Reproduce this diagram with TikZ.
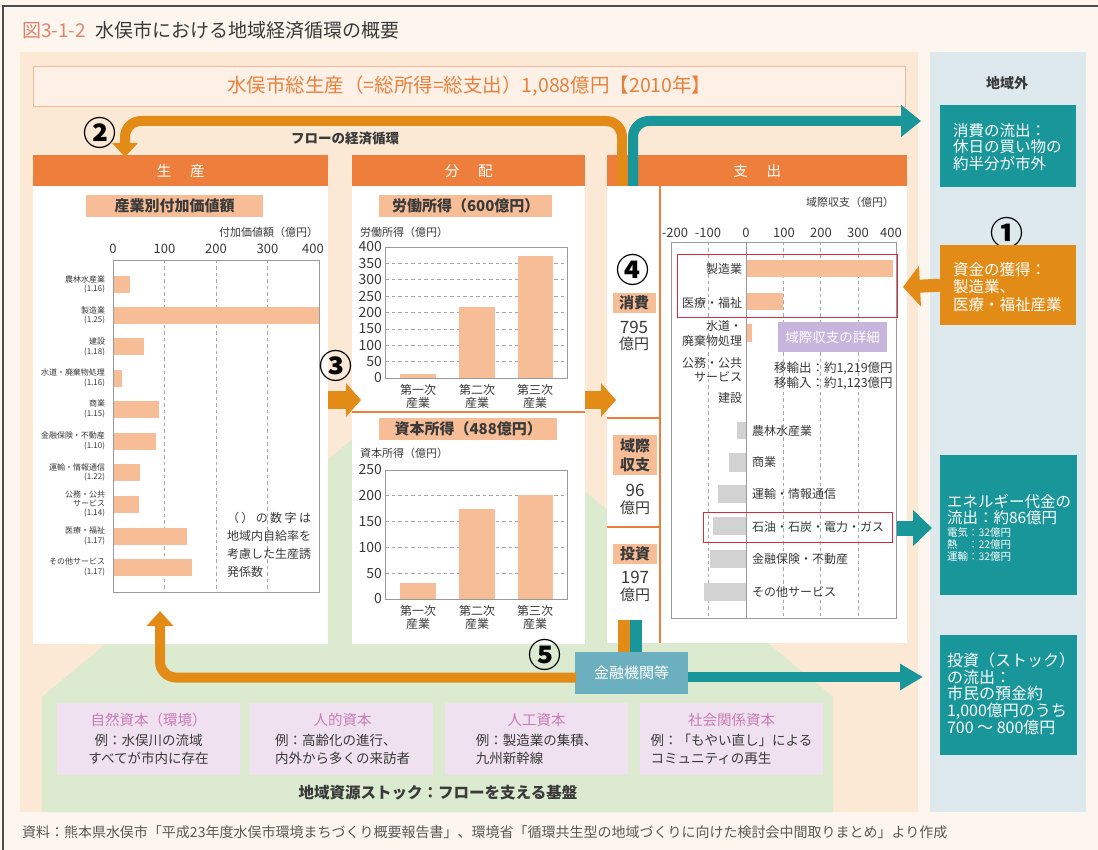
\documentclass[tikz,border=0pt]{standalone}
\usepackage{fontspec}
\setmainfont{Noto Sans CJK JP}
\usetikzlibrary{arrows.meta}
\definecolor{pagebg}{HTML}{FDF6EF}
\definecolor{peach}{HTML}{FBE8D5}
\definecolor{bluebg}{HTML}{DDE9EC}
\definecolor{greenbg}{HTML}{DCEAD0}
\definecolor{hdr}{HTML}{EE7E3B}
\definecolor{flowO}{HTML}{E38B17}
\definecolor{flowT}{HTML}{19969A}
\definecolor{salmon}{HTML}{F7BD96}
\definecolor{graybar}{HTML}{D2D2D2}
\definecolor{lav}{HTML}{EFE1EF}
\definecolor{pinktxt}{HTML}{C97BB7}
\definecolor{purplebox}{HTML}{C8B5DD}
\definecolor{finbox}{HTML}{6CB0BF}
\definecolor{redbox}{HTML}{D62A3D}
\definecolor{txt}{HTML}{3A3A3A}
\definecolor{titleO}{HTML}{E9803A}
\definecolor{frameG}{HTML}{9A9A9A}
\definecolor{gridG}{HTML}{A8A8A8}
\definecolor{totfill}{HTML}{FDF1E7}
\definecolor{totline}{HTML}{F3B89B}
\definecolor{figno}{HTML}{E3826C}
\newcommand{\fsz}[2]{\fontsize{#1}{#2}\selectfont}
\begin{document}
\begin{tikzpicture}[x=1pt,y=-1pt,
  t/.style={inner sep=0pt,outer sep=0pt,text=txt},
  hdrbox/.style={fill=hdr,inner sep=0pt,text=white,font=\fsz{14.5}{16},anchor=north west,minimum height=31pt},
  lblbox/.style={fill=salmon,inner sep=0pt,minimum height=22pt,anchor=north west,text=txt,font=\fsz{15}{17}\bfseries},
  bar/.style={fill=salmon},
  nbar/.style={fill=graybar},
  gridl/.style={draw=gridG,dash pattern=on 3.5pt off 3pt,line width=0.7pt},
  framel/.style={draw=frameG,line width=0.8pt},
  sepl/.style={draw=hdr,line width=1.1pt},
  flowo/.style={draw=flowO,line width=10pt},
  flowt/.style={draw=flowT,line width=10pt},
  circ/.style={inner sep=0pt,text=black,font=\fsz{33}{33}\bfseries},
  tealbox/.style={fill=flowT,inner sep=0pt,anchor=north west},
  capbox/.style={fill=lav,inner sep=0pt,anchor=north west,minimum height=72pt,minimum width=183pt},
  captitle/.style={t,text=pinktxt,font=\fsz{14.5}{16}},
  captext/.style={t,font=\fsz{13.5}{18}},
  smalllab/.style={t,font=\fsz{8}{9.3},align=right,anchor=east},
  clab/.style={t,font=\fsz{12}{13},align=center},
  wtext/.style={t,text=white,align=left,anchor=west},
  rlab/.style={t,font=\fsz{12}{14.5}}
]
\useasboundingbox (0,0) rectangle (1098,850);
\fill[pagebg] (0,0) rectangle (1098,850);
\draw[line width=1.2pt,black!70] (3,850) -- (3,6) -- (1098,6);

% title
\node[t,anchor=west,font=\fsz{19}{22}] (title) at (22,30) {\textcolor{figno}{図3-1-2}\hspace{10pt}水俣市における地域経済循環の概要};

% backgrounds
\fill[peach] (20,52) rectangle (918,812);
\fill[bluebg] (930,52) rectangle (1086,812);
\fill[greenbg] (42,812) -- (42,697) -- (437,369) -- (833,697) -- (833,812) -- cycle;

% total
\node[draw=totline,fill=totfill,line width=0.8pt,minimum width=872pt,minimum height=40pt,anchor=north west,inner sep=0pt] (total) at (33,66) {};
\node[t,text=titleO,font=\fsz{19.5}{22}] (totaltext) at (total.center) {水俣市総生産（=総所得=総支出）1,088億円【2010年】};

% headers
\node[hdrbox,minimum width=295pt] (hprod) at (33,155) {生\hspace{1.3em}産};
\node[hdrbox,minimum width=233pt] (hdist) at (352,155) {分\hspace{1.3em}配};
\node[hdrbox,minimum width=300pt] (hexp) at (607,155) {支\hspace{1.3em}出};

% white panels
\fill[white] (33,186) rectangle (328,644);
\fill[white] (352,186) rectangle (585,644);
\fill[white] (607,186) rectangle (907,643);

% ===== left chart =====
\node[lblbox,minimum width=177pt] (lblprod) at (86,195) {産業別付加価値額};
\node[t,anchor=east,font=\fsz{11}{12}] (unitprod) at (318,232) {付加価値額（億円）};
\foreach \v/\x [count=\i] in {0/113,100/164.5,200/216,300/267.5,400/313} \node[t,font=\fsz{13}{13}] (axp\i) at (\x,249) {\v};
\foreach \x in {164.5,216,267.5} \draw[gridl] (\x,260) -- (\x,592);
\foreach \c/\e/\lab [count=\i] in {284.5/130/{農林水産業\\(1.16)},315.5/319/{製造業\\(1.25)},347/144/{建設\\(1.18)},378/122/{水道・廃棄物処理\\(1.16)},409/159/{商業\\(1.15)},441/156/{金融保険・不動産\\(1.10)},472.5/140/{運輸・情報通信\\(1.22)},504/139/{公務・公共\\サービス\\(1.14)},536/187/{医療・福祉\\(1.17)},567/192/{その他サービス\\(1.17)}}{
  \fill[bar] (113,\c-8.5) rectangle (\e,\c+8.5);
  \node[smalllab] (pl\i) at (105,\c) {\lab};
}
\draw[framel] (113,260) rectangle (319,592);
\node[t,anchor=north west,align=left,font=\fsz{12}{18}] (note) at (227,512) {\hbox to 84pt{（\hfil）\hfil の\hfil 数\hfil 字\hfil は}\\地域内自給率を\\考慮した生産誘\\発係数};

% ===== middle charts =====
\node[lblbox,minimum width=173pt] (lbllab) at (379,195) {労働所得（600億円）};
\node[t,anchor=west,font=\fsz{11}{12}] (unitlab) at (360,232) {労働所得（億円）};
\foreach \v [count=\i] in {0,50,...,400} \node[t,anchor=east,font=\fsz{14}{14}] (axl\i) at (382,378-\v*0.3275) {\v};
\foreach \v in {50,100,...,350} \draw[gridl] (385,378-\v*0.3275) -- (567,378-\v*0.3275);
\fill[bar] (400,374) rectangle (436,378);
\fill[bar] (459,307) rectangle (495,378);
\fill[bar] (518,256) rectangle (553,378);
\draw[framel] (385,247) rectangle (567,378);
\foreach \x/\n [count=\i] in {418/一,477/二,535/三} \node[clab] (cla\i) at (\x,396.5) {第\n 次\\産業};

\draw[sepl] (352,412) -- (585,412);

\node[lblbox,minimum width=178pt] (lblcap) at (379,418) {資本所得（488億円）};
\node[t,anchor=west,font=\fsz{11}{12}] (unitcap) at (360,453) {資本所得（億円）};
\foreach \v [count=\i] in {0,50,...,250} \node[t,anchor=east,font=\fsz{14}{14}] (axc\i) at (382,599-\v*0.516) {\v};
\foreach \v in {50,100,...,200} \draw[gridl] (385,599-\v*0.516) -- (567,599-\v*0.516);
\fill[bar] (400,583) rectangle (436,599);
\fill[bar] (459,509) rectangle (495,599);
\fill[bar] (518,495) rectangle (553,599);
\draw[framel] (385,470) rectangle (567,599);
\foreach \x/\n [count=\i] in {418/一,477/二,535/三} \node[clab] (clb\i) at (\x,617.5) {第\n 次\\産業};

% ===== column 4 =====
\draw[sepl] (660,186) -- (660,643);
\draw[sepl] (607,418) -- (660,418);
\draw[sepl] (607,527) -- (660,527);
\node[circ] (n4) at (633,270) {④};
\node[fill=salmon,minimum width=43pt,minimum height=20pt,inner sep=0pt,font=\fsz{15}{15}\bfseries,text=txt] (cons) at (634,303) {消費};
\node[t,font=\fsz{17}{17}] (v795) at (634,327) {795};
\node[t,font=\fsz{15}{15}] (u795) at (634,344) {億円};
\node[fill=salmon,minimum width=44pt,minimum height=40pt,inner sep=0pt,align=center,font=\fsz{15}{19}\bfseries,text=txt] (bal) at (635,455) {域際\\収支};
\node[t,font=\fsz{17}{17}] (v96) at (635,490) {96};
\node[t,font=\fsz{15}{15}] (u96) at (635,508) {億円};
\node[fill=salmon,minimum width=44pt,minimum height=20pt,inner sep=0pt,font=\fsz{15}{15}\bfseries,text=txt] (inv) at (635,553.5) {投資};
\node[t,font=\fsz{17}{17}] (v197) at (635,577) {197};
\node[t,font=\fsz{15}{15}] (u197) at (635,595) {億円};

% ===== right chart =====
\node[t,font=\fsz{11}{12}] (unitexp) at (850,202) {域際収支（億円）};
\foreach \v/\x [count=\i] in {-200/675,-100/708,0/746,100/784,200/821,300/858,400/891} \node[t,font=\fsz{13}{13}] (axe\i) at (\x,233) {\v};
\foreach \x in {708,783,820,858} \draw[gridl] (\x,242) -- (\x,618);
\fill[bar] (746,260) rectangle (893,277);
\fill[bar] (746,293) rectangle (783,310);
\fill[bar] (746,324) rectangle (752,342);
\fill[nbar] (737,422) rectangle (746,439);
\fill[nbar] (729,453) rectangle (746,472);
\fill[nbar] (718,485) rectangle (746,503);
\fill[nbar] (713,517) rectangle (746,535);
\fill[nbar] (710,550) rectangle (746,568);
\fill[nbar] (704,583) rectangle (746,601);
\draw[frameG,line width=0.9pt] (746,242) -- (746,618);
\draw[framel] (671,242) rectangle (896,618);
\node[rlab,anchor=east] (rl1) at (742,269) {製造業};
\node[rlab,anchor=east] (rl2) at (742,303) {医療・福祉};
\node[rlab,anchor=east,align=right] (rl3) at (742,333.5) {水道・\\廃棄物処理};
\node[rlab,anchor=east,align=right] (rl4) at (742,369.5) {公務・公共\\サービス};
\node[rlab,anchor=east] (rl5) at (742,398) {建設};
\node[rlab,anchor=west] (rl6) at (752,431) {農林水産業};
\node[rlab,anchor=west] (rl7) at (752,462) {商業};
\node[rlab,anchor=west] (rl8) at (752,494) {運輸・情報通信};
\node[rlab,anchor=west] (rl9) at (752,527) {石油・石炭・電力・ガス};
\node[rlab,anchor=west] (rl10) at (752,559) {金融保険・不動産};
\node[rlab,anchor=west] (rl11) at (752,592) {その他サービス};
\node[draw=redbox,line width=1.2pt,minimum width=220pt,minimum height=63pt,inner sep=0pt,anchor=north west] (red1) at (677,254) {};
\node[draw=redbox,line width=1.2pt,minimum width=189pt,minimum height=30pt,inner sep=0pt,anchor=north west] (red2) at (703,512) {};
\node[fill=purplebox,minimum width=109pt,minimum height=30pt,inner sep=0pt,anchor=north west,text=white,font=\fsz{13.5}{14}] (detail) at (778,322) {域際収支の詳細};
\node[t,anchor=west,align=left,font=\fsz{12.5}{15}] (detailtxt) at (774,375.5) {移輸出：約1,219億円\\移輸入：約1,123億円};

% ===== flows =====
\coordinate (oS) at (622,186);
\coordinate (oE) at (125,157);
\draw[flowo,rounded corners=16pt,-{Triangle[width=25pt,length=14pt]}] (oS) -- (622,121) -- (125,121) -- (oE);
\coordinate (tS) at (633,186);
\coordinate (tE) at (921,121);
\draw[flowt,rounded corners=16pt,-{Triangle[width=31pt,length=20pt]}] (tS) -- (633,121) -- (tE);
\node[circ] (n2) at (100,133) {②};
\node[t,font=\fsz{13.5}{14}\bfseries] (flowlbl) at (345,138) {フローの経済循環};

\coordinate (a3S) at (328,400);
\coordinate (a3E) at (361,400);
\draw[draw=flowO,line width=18pt,-{Triangle[width=33pt,length=15pt]}] (a3S) -- (a3E);
\node[circ] (n3) at (336,366) {③};
\coordinate (a4S) at (585,400);
\coordinate (a4E) at (616,400);
\draw[draw=flowO,line width=18pt,-{Triangle[width=33pt,length=15pt]}] (a4S) -- (a4E);

% stubs into finance
\draw[draw=flowO,line width=12pt] (624,620) -- (624,655);
\draw[draw=flowT,line width=12pt] (636,620) -- (636,655);
\node[fill=finbox,minimum width=113pt,minimum height=42pt,inner sep=0pt,anchor=north west,text=white,font=\fsz{15}{15}] (fin) at (575,652) {金融機関等};
\coordinate (bS) at (576,677.5);
\coordinate (bE) at (160,611);
\draw[flowo,rounded corners=16pt,-{Triangle[width=26pt,length=15pt]}] (bS) -- (160,677.5) -- (bE);
\coordinate (btS) at (688,677);
\coordinate (btE) at (923,677);
\draw[flowt,-{Triangle[width=25pt,length=23pt]}] (btS) -- (btE);
\node[circ] (n5) at (545,655) {⑤};

% ===== outside column =====
\node[t,font=\fsz{14}{14}\bfseries] (outside) at (1007,83) {地域外};
\node[tealbox,minimum width=136pt,minimum height=82pt] (bcons) at (940,105) {};
\node[wtext,font=\fsz{15.5}{16.7}] (tcons) at (953,147) {消費の流出：\\休日の買い物の\\約半分が市外};
\node[circ] (n1) at (1007,233) {①};
\node[tealbox,fill=flowO,minimum width=136pt,minimum height=80pt] (bfund) at (940,245) {};
\node[wtext,font=\fsz{15.5}{17.5}] (tfund) at (953,287) {資金の獲得：\\製造業、\\医療・福祉産業};
\coordinate (fTip) at (903,287);
\draw[draw=flowO,line width=13pt,-{Triangle[width=40pt,length=17pt]}] (bfund.west) -- (fTip);
\node[tealbox,minimum width=137pt,minimum height=140pt] (bener) at (940,455) {};
\node[wtext,font=\fsz{15.5}{16}] (tener1) at (947,510) {エネルギー代金の\\流出：約86億円};
\node[wtext,font=\fsz{10.5}{12}] (tener2) at (947,545) {電気：32億円\\熱\hspace{1em}：22億円\\運輸：32億円};
\coordinate (eS) at (897,528);
\coordinate (eE) at (932,528);
\draw[draw=flowT,line width=15pt,-{Triangle[width=35pt,length=19pt]}] (eS) -- (eE);
\node[tealbox,minimum width=137pt,minimum height=120pt] (binv) at (940,635) {};
\node[wtext,font=\fsz{16}{16.7}] (tinv) at (947,693.5) {投資（ストック）\\の流出：\\市民の預金約\\1,000億円のうち\\700 ～ 800億円};

% ===== capital boxes =====
\node[capbox] (cap1) at (57,703) {};
\node[capbox] (cap2) at (250,703) {};
\node[capbox] (cap3) at (445,703) {};
\node[capbox] (cap4) at (640,703) {};
\node[captitle] (cap1t) at (148.5,720) {自然資本（環境）};
\node[captitle] (cap2t) at (342.5,720) {人的資本};
\node[captitle] (cap3t) at (536.5,720) {人工資本};
\node[captitle] (cap4t) at (731.5,720) {社会関係資本};
\node[captext,align=center] (cap1x) at (148.5,749) {例：水俣川の流域\\すべてが市内に存在};
\node[captext,align=left] (cap2x) at (342.5,749) {例：高齢化の進行、\\内外から多くの来訪者};
\node[captext,align=left] (cap3x) at (536.5,749) {例：製造業の集積、\\九州新幹線};
\node[captext,align=left] (cap4x) at (731.5,749) {例：「もやい直し」による\\コミュニティの再生};
\node[t,font=\fsz{15.5}{16}\bfseries] (stock) at (438,793) {地域資源ストック：フローを支える基盤};

% footer
\node[t,anchor=west,text=black!65,font=\fsz{14}{15}] (src) at (22,832) {資料：熊本県水俣市「平成23年度水俣市環境まちづくり概要報告書」、環境省「循環共生型の地域づくりに向けた検討会中間取りまとめ」より作成};
\end{tikzpicture}
\end{document}
